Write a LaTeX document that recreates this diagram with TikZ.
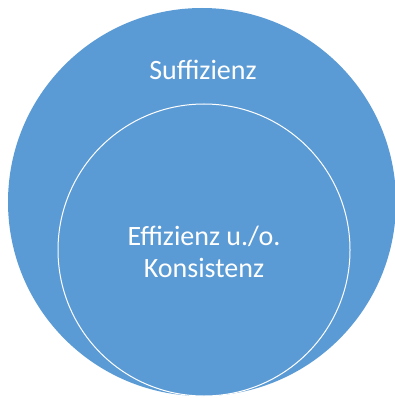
\documentclass[tikz,border=0pt]{standalone}
\usepackage{fontspec}
\setmainfont{Carlito}
\definecolor{officeblue}{HTML}{5B9BD5}
\begin{document}
\begin{tikzpicture}[x=1pt,y=-1pt,
  lbl/.style={text=white,font=\fontsize{28}{32}\selectfont,align=center}]
\useasboundingbox (0,0) rectangle (395,398);
\fill[white] (0,0) rectangle (395,398);
\node[circle,fill=officeblue,minimum size=388pt,inner sep=0pt] (outer) at (202,202) {};
\node[circle,draw=white,line width=1pt,fill=officeblue,minimum size=292pt,inner sep=0pt] (inner) at (204,250) {};
\node[lbl] (suff) at (203,70) {Suffizienz};
\node[lbl] (eff) at (204,252) {Effizienz u./o.\\Konsistenz};
\end{tikzpicture}
\end{document}
